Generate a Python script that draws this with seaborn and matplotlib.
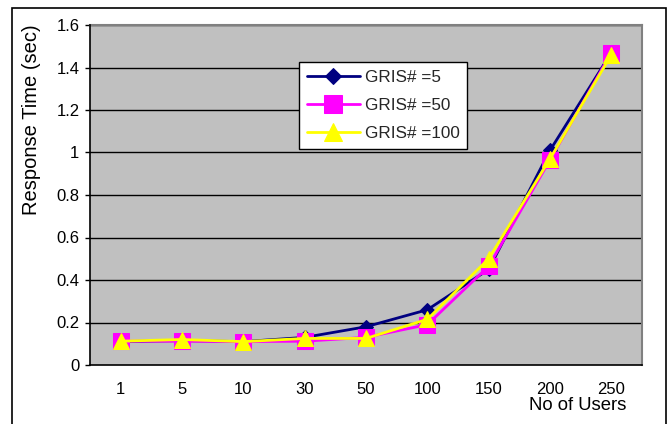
import matplotlib
matplotlib.use("Agg")
import matplotlib.pyplot as plt
from matplotlib.patches import Rectangle
import seaborn as sns
import pandas as pd

users = ["1", "5", "10", "30", "50", "100", "150", "200", "250"]
gris_5 = [0.11, 0.115, 0.11, 0.13, 0.18, 0.26, 0.45, 1.01, 1.47]
gris_50 = [0.112, 0.112, 0.11, 0.112, 0.13, 0.19, 0.465, 0.965, 1.47]
gris_100 = [0.112, 0.12, 0.11, 0.125, 0.125, 0.215, 0.5, 0.97, 1.46]
series_names = ["GRIS# =5", "GRIS# =50", "GRIS# =100"]
y_ticks = [0, 0.2, 0.4, 0.6, 0.8, 1.0, 1.2, 1.4, 1.6]
y_tick_labels = ["0", "0.2", "0.4", "0.6", "0.8", "1", "1.2", "1.4", "1.6"]

sns.set_theme(style="white")
plt.rcParams["font.family"] = ["Liberation Sans", "DejaVu Sans"]

fig = plt.figure(figsize=(6.69, 4.24), dpi=100)
ax = fig.add_axes([90 / 669, 1 - 365 / 424, 552 / 669, 340 / 424])
ax.set_facecolor("#C0C0C0")

# outer chart frame
fig.patches.append(Rectangle((12 / 669, -0.05), 654 / 669, 1.05 - 8 / 424,
                             transform=fig.transFigure, fill=False,
                             edgecolor="black", linewidth=1.2))

frames = []
for name, vals in zip(series_names, [gris_5, gris_50, gris_100]):
    frames.append(pd.DataFrame({"users": users, "resp": vals, "series": name}))
df = pd.concat(frames, ignore_index=True)
df["x"] = df["users"].map({u: i for i, u in enumerate(users)})

styles = {
    "GRIS# =5": dict(color="#000080", marker="D", ms=7.5),
    "GRIS# =50": dict(color="#FF00FF", marker="s", ms=11.5),
    "GRIS# =100": dict(color="#FFFF00", marker="^", ms=12),
}
for name in series_names:
    st = styles[name]
    sub = df[df["series"] == name]
    sns.lineplot(data=sub, x="x", y="resp", ax=ax, color=st["color"],
                 marker=st["marker"], markersize=st["ms"],
                 markeredgecolor=st["color"], markerfacecolor=st["color"],
                 linewidth=2, label=name, zorder=3)

ax.set_xlim(-0.5, len(users) - 0.5)
ax.set_ylim(0, 1.6)
ax.set_yticks(y_ticks)
ax.set_yticklabels(y_tick_labels)
ax.set_xticks(range(len(users)))
ax.set_xticklabels(users)
ax.set_xticks([i - 0.5 for i in range(len(users) + 1)], minor=True)
ax.tick_params(axis="x", which="major", length=0, pad=12, labelsize=12, colors="black")
ax.tick_params(axis="x", which="minor", length=3.6, width=1, color="black", direction="out")
ax.tick_params(axis="y", which="major", length=3.6, width=1, color="black",
               direction="out", left=True, labelsize=12, pad=4, labelcolor="black")
ax.set_xlabel("")
ax.set_ylabel("")

for y in y_ticks[1:]:
    ax.axhline(y, color="black", linewidth=1, zorder=1)

for side in ["top", "right"]:
    ax.spines[side].set_color("#808080")
    ax.spines[side].set_linewidth(1.5)
for side in ["left", "bottom"]:
    ax.spines[side].set_color("black")
    ax.spines[side].set_linewidth(1.2)
    ax.spines[side].set_zorder(4)

fig.text(32 / 669, 1 - 120 / 424, "Response Time (sec)", rotation=90,
         ha="center", va="center", fontsize=14.5, color="black")
fig.text(626 / 669, 1 - 405 / 424, "No of Users", ha="right", va="center",
         fontsize=13.3, color="black")

leg = ax.legend(loc="upper left", bbox_to_anchor=((299 - 90) / 552, (365 - 62) / 340),
                frameon=True, fancybox=False, framealpha=1, edgecolor="black",
                fontsize=12.3, handlelength=3.1, borderpad=0.45, labelspacing=0.78,
                handletextpad=0.3, borderaxespad=0, markerscale=1.1)
leg.get_frame().set_linewidth(1)
leg.set_zorder(5)

fig.savefig("out.png", dpi=100)
